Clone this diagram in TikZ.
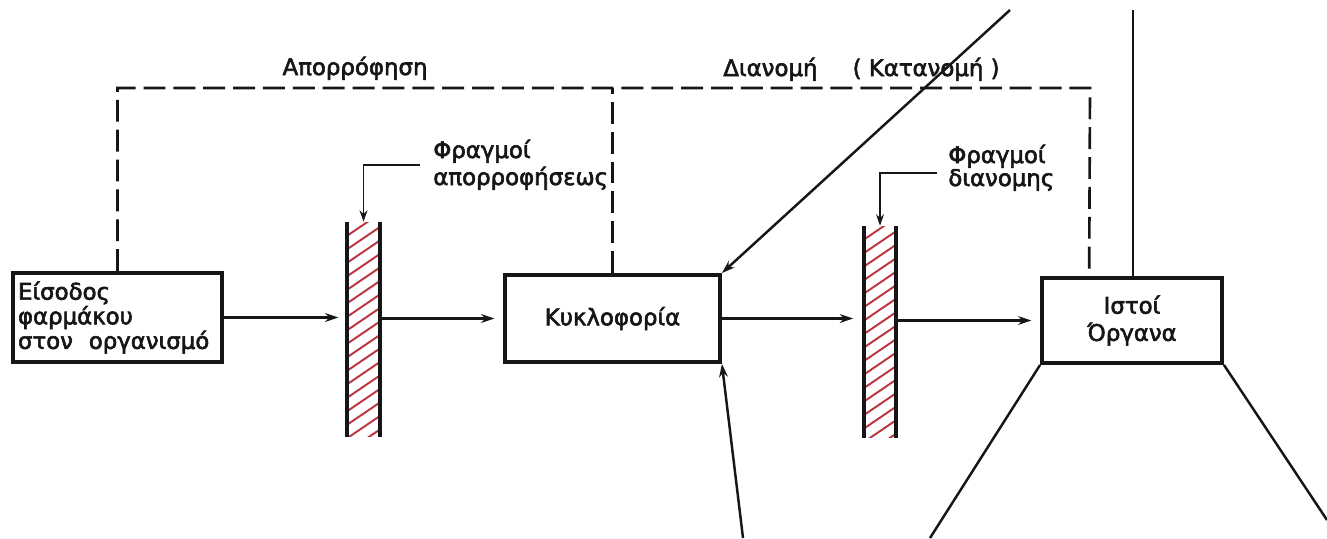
\documentclass[tikz,border=0pt]{standalone}
\usepackage{fontspec}
\setmainfont{DejaVu Sans}[FakeBold=2.5]
\usetikzlibrary{arrows.meta,calc}
\definecolor{ink}{HTML}{161616}
\definecolor{hatchred}{HTML}{BC3440}
\begin{document}
\begin{tikzpicture}[x=0.02cm,y=-0.02cm,
  txt/.style={font=\fontsize{13}{14}\selectfont,text=ink},
  box/.style={txt,draw=ink,line width=2.2pt,inner sep=0pt,fill=white},
  barrier/.style={inner sep=0pt,minimum width=0.64cm,
    path picture={\foreach \k in {0,...,24}{\draw[hatchred,line width=1.1pt] ([yshift=-\k*0.27cm]path picture bounding box.north west) -- ++(1cm,0.68cm);}}},
  wall/.style={draw=ink,line width=2.2pt},
  arr/.style={draw=ink,line width=1.2pt,-{Stealth[length=7.5pt,width=5pt]}},
  leader/.style={draw=ink,line width=1.1pt,-{Stealth[length=6.5pt,width=4.5pt]}},
  dashline/.style={draw=ink,line width=1.5pt,dash pattern=on 12.5pt off 4.5pt},
  solid/.style={draw=ink,line width=1.4pt},
  lbl/.style={txt,inner sep=0pt}
]
\useasboundingbox[fill=white] (0,0) rectangle (1327,538);

% boxes
\node[box,minimum height=1.78cm,text width=3.98cm,inner xsep=0.1cm,align=left] (box1) at (117.5,317.5)
  {Είσοδος\\φαρμάκου\\στον\hspace{9pt}οργανισμό};
\node[box,minimum width=4.3cm,minimum height=1.74cm] (box2) at (612.5,318.5) {Κυκλοφορία};
\node[box,minimum width=3.6cm,minimum height=1.7cm,align=center,font=\fontsize{13}{15.5}\selectfont] (box3) at (1132,320.5) {Ιστοί\\Όργανα};

% barriers
\node[barrier,minimum height=4.3cm] (b1) at (363.5,329.5) {};
\node[barrier,minimum height=4.24cm] (b2) at (880,332) {};
\foreach \b in {b1,b2}{
  \draw[wall] (\b.north west) -- (\b.south west);
  \draw[wall] (\b.north east) -- (\b.south east);
}

% main flow arrows
\draw[arr,shorten >=5pt] (box1.east) -- (box1.east -| b1.west);
\draw[arr,shorten >=5pt] (b1.east |- box2.west) -- (box2.west);
\draw[arr,shorten >=6pt] (box2.east) -- (box2.east -| b2.west);
\draw[arr,shorten >=5pt] (b2.east |- box3.west) -- (box3.west);

% dashed frame
\coordinate (dR) at (1090,88);
\coordinate (d3) at ($(box3.north west)!0.267!(box3.north east)$);
\draw[dashline] (box1.north) |- (dR) -- (d3);
\draw[dashline] (box2.north) -- (box2.north |- dR);

% top labels
\node[lbl,anchor=base] (abs) at (355,75) {Απορρόφηση};
\node[lbl,anchor=base west] (dist) at (723,76) {Διανομή\hspace{20pt}( Κατανομή )};

% barrier labels
\node[lbl,anchor=base west] (l1a) at (433,158) {Φραγμοί};
\node[lbl,anchor=base west] (l1b) at (433,185) {απορροφήσεως};
\coordinate (l1c) at (420,165);
\draw[leader] (l1c) -| (b1.north);

\node[lbl,anchor=base west] (l2a) at (948,163) {Φραγμοί};
\node[lbl,anchor=base west] (l2b) at (948,186) {διανομης};
\coordinate (l2c) at (937,172.7);
\draw[leader] (l2c) -| (b2.north);

% outer lines
\coordinate (dtop) at (1010,10);
\coordinate (dbot) at (743,538);
\draw[arr,line width=1.4pt] (dtop) -- (box2.north east);
\draw[arr,line width=1.4pt] (dbot) -- (box2.south east);

\coordinate (vtop) at (1133,10);
\draw[solid] (box3.north -| vtop) -- (vtop);
\coordinate (bl) at (930,538);
\coordinate (br) at (1327,520);
\draw[solid] (box3.south west) -- (bl);
\draw[solid] (box3.south east) -- (br);
\end{tikzpicture}
\end{document}
